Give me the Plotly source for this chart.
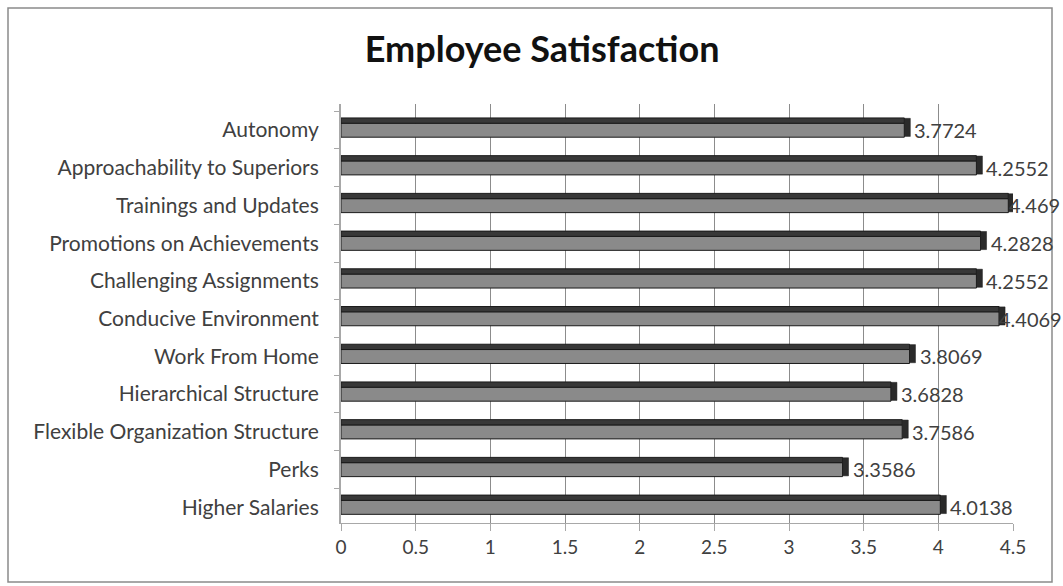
import plotly.graph_objects as go

# bottom-to-top order
categories = [
    "Higher Salaries", "Perks", "Flexible Organization Structure",
    "Hierarchical Structure", "Work From Home", "Conducive Environment",
    "Challenging Assignments", "Promotions on Achievements",
    "Trainings and Updates", "Approachability to Superiors", "Autonomy",
]
values = [4.0138, 3.3586, 3.7586, 3.6828, 3.8069, 4.4069,
          4.2552, 4.2828, 4.469, 4.2552, 3.7724]
labels = ["4.0138", "3.3586", "3.7586", "3.6828", "3.8069", "4.4069",
          "4.2552", "4.2828", "4.469", "4.2552", "3.7724"]
x_ticks = [0, 0.5, 1, 1.5, 2, 2.5, 3, 3.5, 4, 4.5]
x_tick_text = ["0", "0.5", "1", "1.5", "2", "2.5", "3", "3.5", "4", "4.5"]

FONT = "Lato"
TXT = "#404040"
W, H = 1063, 586
ML, MR, MT, MB = 341, 44, 104, 63
DEPTH = 6  # px offset of the back wall (3D look)
plot_w = W - ML - MR
plot_h = H - MT - MB
front_w = plot_w - DEPTH
XMAX = 4.5

fig = go.Figure()
# front face of the bars
fig.add_trace(go.Bar(
    y=categories, x=values, orientation="h",
    width=0.37, offset=-0.19,
    marker=dict(color="#8a8a8a", line=dict(color="#1a1a1a", width=1)),
    hoverinfo="skip", showlegend=False,
))
# top face (3D look)
fig.add_trace(go.Bar(
    y=categories, x=values, orientation="h",
    width=0.14, offset=0.18,
    marker=dict(color="#383838", line=dict(color="#1a1a1a", width=1)),
    hoverinfo="skip", showlegend=False,
))
# end cap (3D look)
fig.add_trace(go.Bar(
    y=categories, x=[0.04] * len(values), base=values, orientation="h",
    width=0.48, offset=-0.17,
    marker=dict(color="#2a2a2a", line=dict(color="#1a1a1a", width=0.5)),
    hoverinfo="skip", showlegend=False,
))
# invisible trace that carries the back-wall grid axis
fig.add_trace(go.Scatter(
    x=[0, XMAX], y=[categories[0], categories[-1]], xaxis="x2", yaxis="y",
    mode="markers", marker=dict(opacity=0), hoverinfo="skip", showlegend=False,
))

annotations = []
for c, v, t in zip(categories, values, labels):
    px = ML + v / XMAX * front_w
    tw = 10.5 * len(t)
    shift = min(8, W - 3 - tw - px)
    annotations.append(dict(
        x=v, y=c, xref="x", yref="y", text=t, showarrow=False,
        xanchor="left", yanchor="middle", xshift=shift,
        font=dict(family=FONT, size=20, color=TXT)))

fig.update_layout(
    width=W, height=H,
    barmode="overlay",
    paper_bgcolor="white", plot_bgcolor="rgba(0,0,0,0)",
    margin=dict(l=ML, r=MR, t=MT, b=MB),
    title=dict(text="<b>Employee Satisfaction</b>", x=0.51, xanchor="center",
               y=0.915, yanchor="middle",
               font=dict(family=FONT, size=36, color="#111111")),
    font=dict(family=FONT, size=20, color=TXT),
    xaxis=dict(range=[0, XMAX], domain=[0, front_w / plot_w],
               tickvals=x_ticks, ticktext=x_tick_text,
               showgrid=False, zeroline=False, showline=True,
               linecolor="#a8a8a8",
               ticks="outside", tickcolor="#a8a8a8", ticklen=7,
               tickfont=dict(family=FONT, size=19, color=TXT)),
    xaxis2=dict(range=[0, XMAX], domain=[DEPTH / plot_w, 1],
                anchor="y", overlaying="x", side="bottom",
                tickvals=x_ticks, showticklabels=False, ticks="",
                showgrid=True, gridcolor="#8c8c8c", gridwidth=1,
                zeroline=False, showline=False, layer="below traces"),
    yaxis=dict(categoryorder="array", categoryarray=categories,
               range=[-0.42, 10.69],
               showgrid=False, zeroline=False, showline=True,
               linecolor="#a8a8a8", linewidth=2, ticks="outside",
               tickson="boundaries", tickcolor="#a8a8a8",
               ticklen=5, ticklabelstandoff=16,
               tickfont=dict(family=FONT, size=21, color=TXT)),
    annotations=annotations,
    shapes=[dict(type="rect", xref="paper", yref="paper",
                 x0=(8 - ML) / plot_w, x1=(1052 - ML) / plot_w,
                 y0=(H - MB - 582) / plot_h, y1=(H - MB - 8) / plot_h,
                 line=dict(color="#8a8a8a", width=1.5), layer="below")],
)

fig.write_html(
    "out.html",
    config={"displayModeBar": False},
    post_script="document.body.style.margin='0';"
                "document.body.style.overflow='hidden';",
)
